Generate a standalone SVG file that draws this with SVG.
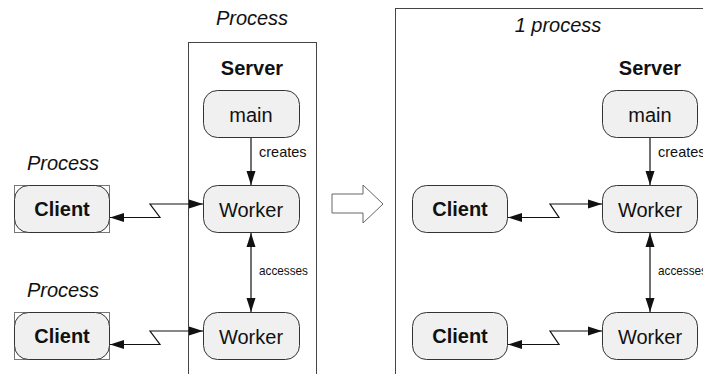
<svg xmlns="http://www.w3.org/2000/svg" width="703" height="374" viewBox="0 0 703 374">
<defs>
<style>
text{font-family:"Liberation Sans",Arial,sans-serif;fill:#111}
.node{fill:#f0f0f0;stroke:#333;stroke-width:1}
.frame{fill:none;stroke:#444;stroke-width:1}
.lbl{font-size:20px;text-anchor:middle}
.b{font-weight:bold}
.it{font-style:italic}
.cr{font-size:14.5px}
.ac{font-size:13px}
.ln{fill:none;stroke:#111;stroke-width:1.2}
</style>
<marker id="ah" viewBox="0 0 14 10" refX="14" refY="5" markerWidth="14" markerHeight="10" markerUnits="userSpaceOnUse" orient="auto-start-reverse">
<path d="M0,0.5 L14,5 L0,9.5 Z" fill="#111"/>
</marker>
</defs>
<rect width="703" height="374" fill="#fff"/>

<g id="left-server-box">
<rect class="frame" x="188.5" y="42.5" width="128" height="340"/>
<text class="lbl it" x="252" y="25">Process</text>
<text class="lbl b" x="252" y="75">Server</text>
</g>
<g id="right-process-box">
<rect class="frame" x="395.5" y="8.5" width="320" height="380"/>
<text class="lbl it" x="558" y="32">1 process</text>
<text class="lbl b" x="650" y="75">Server</text>
</g>

<g id="transform-arrow">
<polygon points="332,194 363,194 363,185 383,204 363,223 363,213 332,213" fill="#fff" stroke="#666" stroke-width="1"/>
</g>

<g id="left-client1">
<text class="lbl it" x="63" y="170">Process</text>
<rect x="14.5" y="185.5" width="95" height="47" fill="none" stroke="#777"/>
<rect class="node" x="14.5" y="185.5" width="95" height="47" rx="14"/>
<text class="lbl b" x="62" y="216">Client</text>
</g>
<g id="left-client2">
<text class="lbl it" x="63" y="297">Process</text>
<rect x="14.5" y="312.5" width="95" height="47" fill="none" stroke="#777"/>
<rect class="node" x="14.5" y="312.5" width="95" height="47" rx="14"/>
<text class="lbl b" x="62" y="343">Client</text>
</g>
<g id="left-main">
<rect class="node" x="203.5" y="90.5" width="96" height="47" rx="14"/>
<text class="lbl" x="251" y="122">main</text>
</g>
<g id="left-worker1">
<rect class="node" x="203.5" y="185.5" width="96" height="47" rx="14"/>
<text class="lbl" x="251" y="217">Worker</text>
</g>
<g id="left-worker2">
<rect class="node" x="203.5" y="312.5" width="96" height="47" rx="14"/>
<text class="lbl" x="251" y="344">Worker</text>
</g>

<g id="right-client1">
<rect class="node" x="412.5" y="185.5" width="95" height="47" rx="14"/>
<text class="lbl b" x="460" y="216">Client</text>
</g>
<g id="right-client2">
<rect class="node" x="412.5" y="312.5" width="95" height="47" rx="14"/>
<text class="lbl b" x="460" y="343">Client</text>
</g>
<g id="right-main">
<rect class="node" x="602.5" y="90.5" width="95" height="47" rx="14"/>
<text class="lbl" x="650" y="122">main</text>
</g>
<g id="right-worker1">
<rect class="node" x="602.5" y="185.5" width="95" height="47" rx="14"/>
<text class="lbl" x="650" y="217">Worker</text>
</g>
<g id="right-worker2">
<rect class="node" x="602.5" y="312.5" width="95" height="47" rx="14"/>
<text class="lbl" x="650" y="344">Worker</text>
</g>

<g id="connectors">
<polyline class="ln" points="203,204 150,204 160,217.5 110,217.5" marker-start="url(#ah)" marker-end="url(#ah)"/>
<polyline class="ln" points="203,331 150,331 160,344.5 110,344.5" marker-start="url(#ah)" marker-end="url(#ah)"/>
<polyline class="ln" points="602,204 550,204 559,217.5 508,217.5" marker-start="url(#ah)" marker-end="url(#ah)"/>
<polyline class="ln" points="602,331 550,331 559,344.5 508,344.5" marker-start="url(#ah)" marker-end="url(#ah)"/>
<line class="ln" x1="251" y1="138" x2="251" y2="185" marker-end="url(#ah)"/>
<line class="ln" x1="251" y1="233" x2="251" y2="312" marker-start="url(#ah)" marker-end="url(#ah)"/>
<line class="ln" x1="650" y1="138" x2="650" y2="185" marker-end="url(#ah)"/>
<line class="ln" x1="650" y1="233" x2="650" y2="312" marker-start="url(#ah)" marker-end="url(#ah)"/>
<text class="cr" x="259" y="157">creates</text>
<text class="ac" x="259" y="275" textLength="49" lengthAdjust="spacingAndGlyphs">accesses</text>
<text class="cr" x="658" y="157">creates</text>
<text class="ac" x="658" y="275" textLength="49" lengthAdjust="spacingAndGlyphs">accesses</text>
</g>
</svg>
